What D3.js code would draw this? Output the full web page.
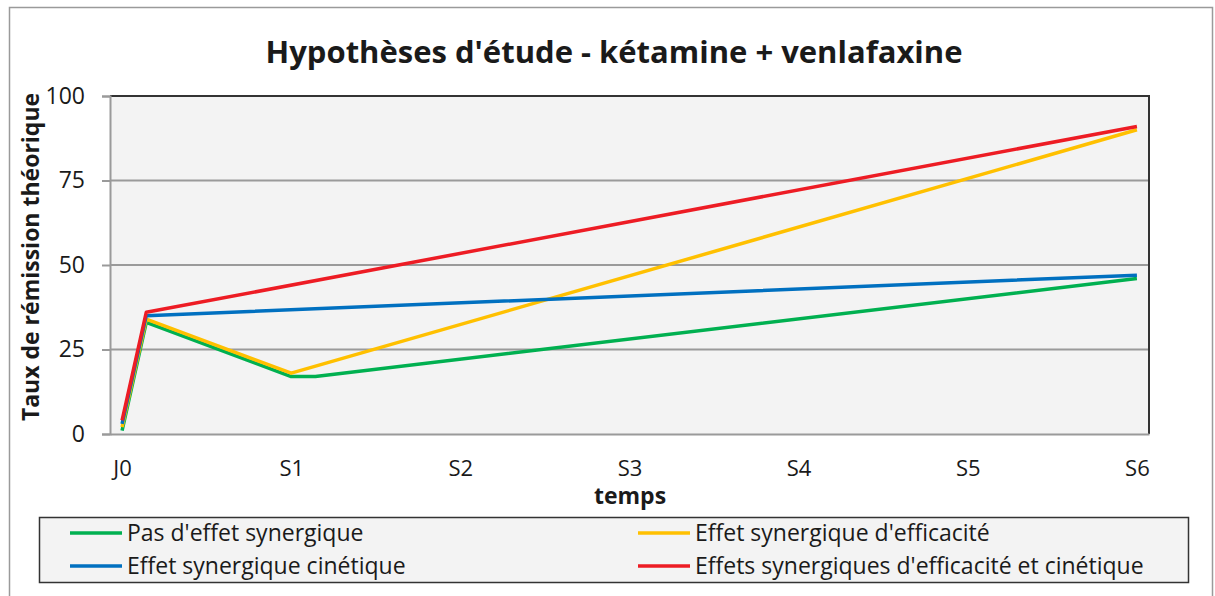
<!DOCTYPE html>
<html>
<head>
<meta charset="utf-8">
<script src="https://cdn.jsdelivr.net/npm/d3@7"></script>
<style>
  body { margin: 0; background: #fff; }
  text { font-family: "Open Sans", sans-serif; fill: #1a1a1a; }
</style>
</head>
<body>
<script>
// days since J0, tick labels every week
let tickDays = [0, 7, 14, 21, 28, 35, 42];
let tickLabels = ['J0', 'S1', 'S2', 'S3', 'S4', 'S5', 'S6'];
let yTicks = [0, 25, 50, 75, 100];

let seriesNames = [
  "Pas d'effet synergique",
  "Effet synergique d'efficacité",
  "Effet synergique cinétique",
  "Effets synergiques d'efficacité et cinétique"
];
let seriesColors = ['#00b050', '#ffc000', '#0070c0', '#ed1c24'];

let noEffectDays = [0, 1, 7, 8, 42];
let noEffect = [1, 33, 17, 17, 46];
let efficacyDays = [0, 1, 7, 42];
let efficacy = [2, 34, 18, 90];
let kineticDays = [0, 1, 42];
let kinetic = [3, 35, 47];
let bothDays = [0, 1, 42];
let both = [4, 36, 91];

let series = [
  { name: seriesNames[0], color: seriesColors[0], days: noEffectDays, values: noEffect },
  { name: seriesNames[1], color: seriesColors[1], days: efficacyDays, values: efficacy },
  { name: seriesNames[2], color: seriesColors[2], days: kineticDays, values: kinetic },
  { name: seriesNames[3], color: seriesColors[3], days: bothDays, values: both }
];

let W = 1215, H = 596;
let margin = { top: 96, right: 66, bottom: 162, left: 110 };
let width = W - margin.left - margin.right;
let height = H - margin.top - margin.bottom;

let svg = d3.select('body').append('svg')
    .attr('width', W)
    .attr('height', H);

// outer chart border
svg.append('rect')
    .attr('x', 9.5).attr('y', 7.5)
    .attr('width', 1203).attr('height', 600)
    .attr('fill', 'none')
    .attr('stroke', '#9a9a9a')
    .attr('stroke-width', 1.5);

svg.append('text')
    .attr('x', 614).attr('y', 63)
    .attr('text-anchor', 'middle')
    .style('font-size', '31px')
    .style('font-weight', 'bold')
    .text("Hypothèses d'étude - kétamine + venlafaxine");

let g = svg.append('g')
    .attr('transform', 'translate(' + margin.left + ',' + margin.top + ')');

let x = d3.scaleLinear().domain([-0.5, 42.5]).range([0, width]);
let y = d3.scaleLinear().domain([0, 100]).range([height, 0]);

// plot area
g.append('rect')
    .attr('width', width).attr('height', height)
    .attr('fill', '#f3f3f3');

// gridlines
g.selectAll('.grid').data(yTicks.slice(1, 4)).enter().append('line')
    .attr('x1', 0).attr('x2', width)
    .attr('y1', function(d) { return y(d); })
    .attr('y2', function(d) { return y(d); })
    .attr('stroke', '#9a9a9a')
    .attr('stroke-width', 2);

// top and right border of plot
g.append('path')
    .attr('d', 'M0,' + y(100) + 'H' + width + 'V' + height)
    .attr('fill', 'none')
    .attr('stroke', '#333')
    .attr('stroke-width', 2);

// y axis
let yAxis = d3.axisLeft(y).tickValues(yTicks).tickSize(8).tickPadding(17);
let yg = g.append('g').call(yAxis);
yg.select('.domain').attr('stroke', '#9a9a9a').attr('stroke-width', 2);
yg.selectAll('.tick line').attr('stroke', '#9a9a9a').attr('stroke-width', 2);
yg.selectAll('.tick text')
    .style('font-size', '23px')
    .style('font-family', '"Open Sans", sans-serif')
    .attr('fill', '#1a1a1a');

// x axis
let xAxis = d3.axisBottom(x).tickValues(tickDays).tickSize(0).tickPadding(26)
    .tickFormat(function(d, i) { return tickLabels[i]; });
let xg = g.append('g').attr('transform', 'translate(0,' + height + ')').call(xAxis);
xg.select('.domain').attr('stroke', '#9a9a9a').attr('stroke-width', 2);
xg.selectAll('.tick text')
    .style('font-size', '22px')
    .style('font-family', '"Open Sans", sans-serif')
    .attr('fill', '#1a1a1a');

// axis titles
svg.append('text')
    .attr('transform', 'translate(39,257) rotate(-90)')
    .attr('text-anchor', 'middle')
    .style('font-size', '23px')
    .style('font-weight', 'bold')
    .text('Taux de rémission théorique');

svg.append('text')
    .attr('x', 630).attr('y', 504)
    .attr('text-anchor', 'middle')
    .style('font-size', '23px')
    .style('font-weight', 'bold')
    .text('temps');

// lines
let line = d3.line()
    .x(function(d) { return x(d[0]); })
    .y(function(d) { return y(d[1]); });

g.selectAll('.series').data(series).enter().append('path')
    .attr('class', 'series')
    .attr('fill', 'none')
    .attr('stroke', function(d) { return d.color; })
    .attr('stroke-width', 3.5)
    .attr('stroke-linejoin', 'round')
    .attr('d', function(d) { return line(d3.zip(d.days, d.values)); });

// legend
let legend = svg.append('g');
legend.append('rect')
    .attr('x', 39.5).attr('y', 517.5)
    .attr('width', 1149).attr('height', 65)
    .attr('fill', '#f3f3f3')
    .attr('stroke', '#333')
    .attr('stroke-width', 1.5);

let legendPos = [[70, 533], [638, 533], [70, 566], [638, 566]];
let legendOrder = [0, 1, 2, 3];
legendOrder.forEach(function(si, i) {
  let p = legendPos[i];
  legend.append('line')
      .attr('x1', p[0]).attr('x2', p[0] + 52)
      .attr('y1', p[1]).attr('y2', p[1])
      .attr('stroke', series[si].color)
      .attr('stroke-width', 3.5);
  legend.append('text')
      .attr('x', p[0] + 57).attr('y', p[1])
      .attr('dy', '0.35em')
      .style('font-size', '23px')
      .text(series[si].name);
});
</script>
</body>
</html>
